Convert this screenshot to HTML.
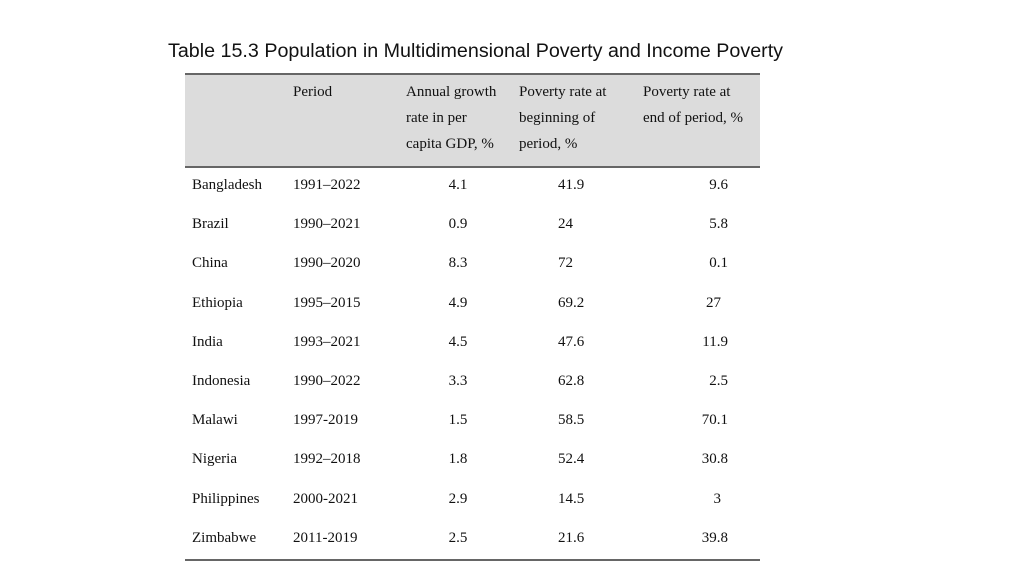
<!DOCTYPE html>
<html><head><meta charset="utf-8"><style>
body{margin:0;width:1024px;height:576px;background:#fff;position:relative;overflow:hidden}
.t{position:absolute;font-family:"Liberation Serif",serif;font-size:15px;color:#111;white-space:nowrap;line-height:16px}
#title{position:absolute;left:168px;top:40px;font-family:"Liberation Sans",sans-serif;font-size:19.7px;color:#111;white-space:nowrap}
</style></head><body>
<div id="title">Table 15.3 Population in Multidimensional Poverty and Income Poverty</div>
<div style="position:absolute;left:185px;top:74px;width:575px;height:93px;background:#dcdcdc"></div>
<div style="position:absolute;left:185px;top:73px;width:575px;height:2px;background:#666"></div>
<div style="position:absolute;left:185px;top:166px;width:575px;height:2px;background:#666"></div>
<div style="position:absolute;left:185px;top:559px;width:575px;height:2px;background:#666"></div>
<div class="t" style="left:293px;top:84px">Period</div>
<div class="t" style="left:406px;top:79px;line-height:26px">Annual growth<br>rate in per<br>capita GDP, %</div>
<div class="t" style="left:519px;top:79px;line-height:26px">Poverty rate at<br>beginning of<br>period, %</div>
<div class="t" style="left:643px;top:79px;line-height:26px">Poverty rate at<br>end of period, %</div>
<script>
const countries=["Bangladesh","Brazil","China","Ethiopia","India","Indonesia","Malawi","Nigeria","Philippines","Zimbabwe"];
const periods=["1991–2022","1990–2021","1990–2020","1995–2015","1993–2021","1990–2022","1997-2019","1992–2018","2000-2021","2011-2019"];
const growth=["4.1","0.9","8.3","4.9","4.5","3.3","1.5","1.8","2.9","2.5"];
const povBegin=["41.9","24","72","69.2","47.6","62.8","58.5","52.4","14.5","21.6"];
const povEnd=["9.6","5.8","0.1","27","11.9","2.5","70.1","30.8","3","39.8"];
function add(txt,name,style){
  const d=document.createElement('div');
  d.className='t';
  d.textContent=txt;
  
  
  d.setAttribute('style', style);
  document.body.appendChild(d);
}
countries.forEach((c,i)=>{
  const top=177+i*39.2;
  add(c,'country-'+i,`left:192px;top:${top}px`);
  add(periods[i],'period-'+i,`left:293px;top:${top}px`);
  add(growth[i],'growth-'+i,`left:418px;width:80px;text-align:center;top:${top}px`);
  add(povBegin[i],'poverty-begin-'+i,`left:558px;top:${top}px`);
  const endRight = (povEnd[i]==="27"||povEnd[i]==="3") ? 303 : 296;
  add(povEnd[i],'poverty-end-'+i,`right:${endRight}px;top:${top}px`);
});
</script>
</body></html>
